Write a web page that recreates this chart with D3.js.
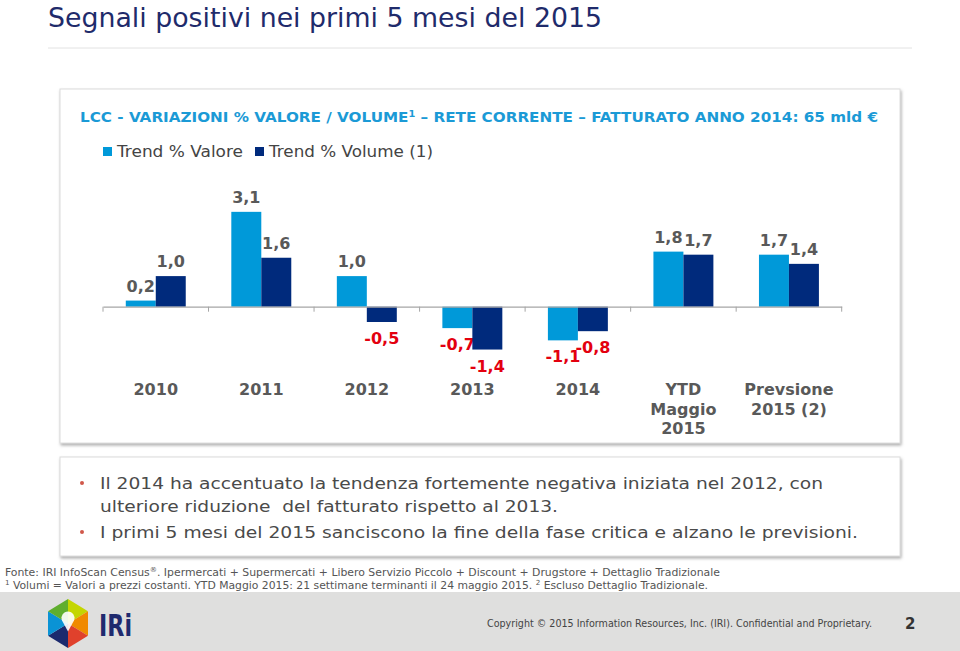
<!DOCTYPE html>
<html><head><meta charset="utf-8">
<script src="https://cdn.jsdelivr.net/npm/d3@7"></script>
<style>
html,body{margin:0;padding:0;background:#fff;}
svg{display:block;}
text{white-space:pre;}
</style></head>
<body>
<svg id="c" width="960" height="651"></svg>
<script>
// ---- data ----
const categories = ["2010","2011","2012","2013","2014","YTD Maggio 2015","Prevsione 2015 (2)"];
const categoryLines = [["2010"],["2011"],["2012"],["2013"],["2014"],["YTD","Maggio","2015"],["Prevsione","2015 (2)"]];
const seriesNames = ["Trend % Valore","Trend % Volume (1)"];
const valore = [0.2, 3.1, 1.0, -0.7, -1.1, 1.8, 1.7];
const volume = [1.0, 1.6, -0.5, -1.4, -0.8, 1.7, 1.4];
const bullets = [
  ["Il 2014 ha accentuato la tendenza fortemente negativa iniziata nel 2012, con","ulteriore riduzione  del fatturato rispetto al 2013."],
  ["I primi 5 mesi del 2015 sanciscono la fine della fase critica e alzano le previsioni."]
];

const colors = ["#0099d9","#002a7c"];
const svg = d3.select("#c");
const defs = svg.append("defs");
const f = defs.append("filter").attr("id","sh").attr("x","-5%").attr("y","-5%").attr("width","110%").attr("height","115%");
f.append("feDropShadow").attr("dx",1).attr("dy",2).attr("stdDeviation",1.5).attr("flood-color","#777").attr("flood-opacity",0.6);

// title
svg.append("text").attr("x",48).attr("y",27)
  .attr("font-family","'DejaVu Sans Condensed','Liberation Sans Narrow',sans-serif")
  .attr("font-size",27).attr("fill","#1f2b6b")
  .attr("textLength",554).attr("lengthAdjust","spacingAndGlyphs")
  .text("Segnali positivi nei primi 5 mesi del 2015");
svg.append("line").attr("x1",48).attr("x2",912).attr("y1",48).attr("y2",48).attr("stroke","#e2e2e2").attr("stroke-width",1);

// chart box
svg.append("rect").attr("x",60).attr("y",89).attr("width",840).attr("height",354)
  .attr("fill","#fff").attr("stroke","#dcdcdc").attr("filter","url(#sh)");

// header
const hdr = svg.append("text").attr("x",80).attr("y",122)
  .attr("font-family","'DejaVu Sans',Verdana,sans-serif").attr("font-weight","bold")
  .attr("font-size",14).attr("fill","#1b9ad6")
  .attr("textLength",798).attr("lengthAdjust","spacingAndGlyphs");
hdr.append("tspan").text("LCC - VARIAZIONI % VALORE / VOLUME");
hdr.append("tspan").attr("font-size",9).attr("dy",-5).text("1");
hdr.append("tspan").attr("dy",5).text(" \u2013 RETE CORRENTE \u2013 FATTURATO ANNO 2014: 65 mld \u20AC");

// legend
const legX = [103, 255], legW = [126, 164];
seriesNames.forEach((s,i)=>{
  svg.append("rect").attr("x",legX[i]).attr("y",147).attr("width",9).attr("height",9).attr("fill",colors[i]);
  svg.append("text").attr("x",legX[i]+14).attr("y",157)
    .attr("font-family","'DejaVu Sans',Verdana,sans-serif").attr("font-size",15).attr("fill","#444")
    .attr("textLength",legW[i]).attr("lengthAdjust","spacingAndGlyphs").text(s);
});

// scales
const x0 = d3.scaleBand().domain(categories).range([103,841.7]).padding(0);
const x1 = d3.scaleBand().domain([0,1]).range([0,x0.bandwidth()]).paddingInner(0).paddingOuter(0.76);
const y = d3.scaleLinear().domain([-2,4]).range([306.7+61.2, 306.7-122.4]);

const data = categories.map((c,i)=>({c, v:[valore[i], volume[i]]}));
const g = svg.append("g");
const fmt = v => v.toFixed(1).replace(".",",");

data.forEach(d=>{
  d.v.forEach((v,j)=>{
    const bx = x0(d.c)+x1(j), bw = x1.bandwidth();
    g.append("rect").attr("x",bx).attr("width",bw)
      .attr("y",y(Math.max(0,v))).attr("height",Math.abs(y(v)-y(0)))
      .attr("fill",colors[j]);
    g.append("text").attr("x",bx+bw/2)
      .attr("y", v>=0 ? y(v)-9 : y(v)+22)
      .attr("text-anchor","middle")
      .attr("font-family","'DejaVu Sans',Verdana,sans-serif").attr("font-weight","bold")
      .attr("font-size",16).attr("fill", v>=0 ? "#595959" : "#e3000f")
      .text(fmt(v));
  });
});

// axis
const axis = d3.axisBottom(x0).tickSize(0).tickFormat("");
const ag = svg.append("g").attr("transform",`translate(0,${y(0)})`).call(axis);
ag.select(".domain").attr("stroke","#a6a6a6").attr("stroke-width",1.2);
const bounds = categories.map(c=>x0(c)).concat([x0.range()[1]]);
ag.selectAll("line.bd").data(bounds).join("line").attr("class","bd")
  .attr("x1",d=>d).attr("x2",d=>d).attr("y1",0).attr("y2",5).attr("stroke","#a6a6a6");

// category labels
categories.forEach((c,i)=>{
  const t = svg.append("text").attr("x",x0(c)+x0.bandwidth()/2).attr("y",395)
    .attr("text-anchor","middle")
    .attr("font-family","'DejaVu Sans',Verdana,sans-serif").attr("font-weight","bold")
    .attr("font-size",16).attr("fill","#595959");
  categoryLines[i].forEach((l,k)=>{
    t.append("tspan").attr("x",x0(c)+x0.bandwidth()/2).attr("dy",k===0?0:19.5).text(l);
  });
});

// bullet box
svg.append("rect").attr("x",60).attr("y",457).attr("width",840).attr("height",99)
  .attr("fill","#fff").attr("stroke","#dcdcdc").attr("filter","url(#sh)");
const lineY = [[489,512],[538]];
const lineW = [[723,458],[758]];
bullets.forEach((b,i)=>{
  svg.append("circle").attr("cx",82).attr("cy",lineY[i][0]-6).attr("r",2).attr("fill","#d0584a");
  b.forEach((l,k)=>{
    svg.append("text").attr("x",100).attr("y",lineY[i][k])
      .attr("font-family","'DejaVu Sans',Verdana,sans-serif").attr("font-size",16).attr("fill","#4a4a4a")
      .attr("textLength",lineW[i][k]).attr("lengthAdjust","spacingAndGlyphs").text(l);
  });
});

// footnotes
const fnFont = "'DejaVu Sans Condensed','DejaVu Sans',sans-serif";
const fn1 = svg.append("text").attr("x",5).attr("y",576)
  .attr("font-family",fnFont).attr("font-size",10.5).attr("fill","#555")
  .attr("textLength",715).attr("lengthAdjust","spacingAndGlyphs");
fn1.append("tspan").text("Fonte: IRI InfoScan Census");
fn1.append("tspan").attr("font-size",7).attr("dy",-4).text("\u00AE");
fn1.append("tspan").attr("dy",4).text(". Ipermercati + Supermercati + Libero Servizio Piccolo + Discount + Drugstore + Dettaglio Tradizionale");
const fn2 = svg.append("text").attr("x",5).attr("y",589)
  .attr("font-family",fnFont).attr("font-size",10.5).attr("fill","#555")
  .attr("textLength",703).attr("lengthAdjust","spacingAndGlyphs");
fn2.append("tspan").attr("font-size",7).attr("dy",-4).text("1");
fn2.append("tspan").attr("dy",4).text(" Volumi = Valori a prezzi costanti. YTD Maggio 2015: 21 settimane terminanti il 24 maggio 2015. ");
fn2.append("tspan").attr("font-size",7).attr("dy",-4).text("2");
fn2.append("tspan").attr("dy",4).text(" Escluso Dettaglio Tradizionale.");

// footer band
svg.append("rect").attr("x",0).attr("y",592).attr("width",960).attr("height",59).attr("fill","#dfdfde");
svg.append("text").attr("x",487).attr("y",627)
  .attr("font-family",fnFont).attr("font-size",10).attr("fill","#444")
  .attr("textLength",385).attr("lengthAdjust","spacingAndGlyphs")
  .text("Copyright \u00A9 2015 Information Resources, Inc. (IRI). Confidential and Proprietary.");
svg.append("text").attr("x",905).attr("y",629)
  .attr("font-family","'DejaVu Sans',Verdana,sans-serif").attr("font-size",15).attr("font-weight","bold").attr("fill","#333")
  .text("2");

// logo (pointy-top hexagon of six coloured triangles)
const cx = 68, cy = 623.5, rx = 20, ry = 24.5;
const hv = [[cx,cy-ry],[cx+rx,cy-ry/2],[cx+rx,cy+ry/2],[cx,cy+ry],[cx-rx,cy+ry/2],[cx-rx,cy-ry/2]];
const segCol = ["#c4d600","#f08a00","#e0412c","#1b2a6e","#0a93d5","#5fae2e"];
hv.forEach((p,i)=>{
  const q = hv[(i+1)%6];
  svg.append("path").attr("d",`M${cx},${cy}L${p[0]},${p[1]}L${q[0]},${q[1]}Z`).attr("fill",segCol[i]);
});
svg.append("path").attr("d",`M${cx-6},${cy-3}a6.5,6.5 0 1,1 12,0 L${cx},${cy+8}Z`).attr("fill","#fff").attr("opacity",0.9);
svg.append("text").attr("x",99).attr("y",636)
  .attr("font-family","'DejaVu Sans',sans-serif").attr("font-weight","bold").attr("font-size",30).attr("fill","#1f2a6e")
  .attr("textLength",33).attr("lengthAdjust","spacingAndGlyphs").text("IRi");
</script>
</body></html>
